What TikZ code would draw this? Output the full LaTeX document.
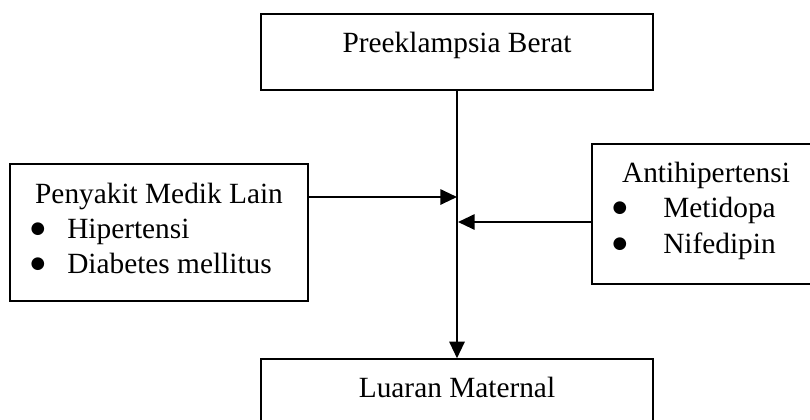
\documentclass[tikz,border=0pt]{standalone}
\usepackage{fontspec}
\setmainfont{Liberation Serif}
\newfontfamily\simbol{DejaVu Sans}
\usetikzlibrary{arrows.meta}

\newcommand{\butir}{\raisebox{3.5pt}{\simbol\fontsize{12.5}{13}\selectfont ●}}

\tikzset{
	kotak/.style={draw, line width=1.1pt, inner sep=0pt},
	judul/.style={text height=0.7em, text depth=0.7em},
	teks/.style={inner sep=0pt},
	panah/.style={line width=1.5pt, -{Triangle[length=12.5pt, width=11.5pt]}},
}

\begin{document}
\begin{tikzpicture}[x=0.75pt, y=-0.75pt, font=\fontsize{22}{26}\selectfont]
	\useasboundingbox (0,0) rectangle (810,419);
	\clip (0,0) rectangle (810,419);
	
	\node[kotak, judul, minimum width=294pt, minimum height=57pt] (pb) at (457,52) {Preeklampsia Berat};
	\node[kotak, judul, minimum width=294pt, minimum height=57pt] (lm) at (457,397) {Luaran Maternal};
	\node[kotak, minimum width=223.5pt, minimum height=102.75pt] (pml) at (159,232.5) {};
	\node[kotak, minimum width=178.5pt, minimum height=105pt] (ah) at (711,214) {};
	
	\node[teks, anchor=base] (pml-t) at (159,203) {Penyakit Medik Lain};
	\node[teks, anchor=base] (pml-b1) at (38,238) {\butir};
	\node[teks, anchor=base west] (pml-i1) at (67,238) {Hipertensi};
	\node[teks, anchor=base] (pml-b2) at (38,273) {\butir};
	\node[teks, anchor=base west] (pml-i2) at (67,273) {Diabetes mellitus};
	
	\node[teks, anchor=base] (ah-t) at (706,182) {Antihipertensi};
	\node[teks, anchor=base] (ah-b1) at (620,217) {\butir};
	\node[teks, anchor=base west] (ah-i1) at (663,217) {Metidopa};
	\node[teks, anchor=base] (ah-b2) at (620,253) {\butir};
	\node[teks, anchor=base west] (ah-i2) at (663,253) {Nifedipin};
	
	\coordinate (m1) at (457,197);
	\coordinate (m2) at (458,222);
	
	\draw[panah] (pb.south) -- (lm.north);
	\draw[panah] (pml.east |- m1) -- (m1);
	\draw[panah] (ah.west |- m2) -- (m2);
\end{tikzpicture}
\end{document}
